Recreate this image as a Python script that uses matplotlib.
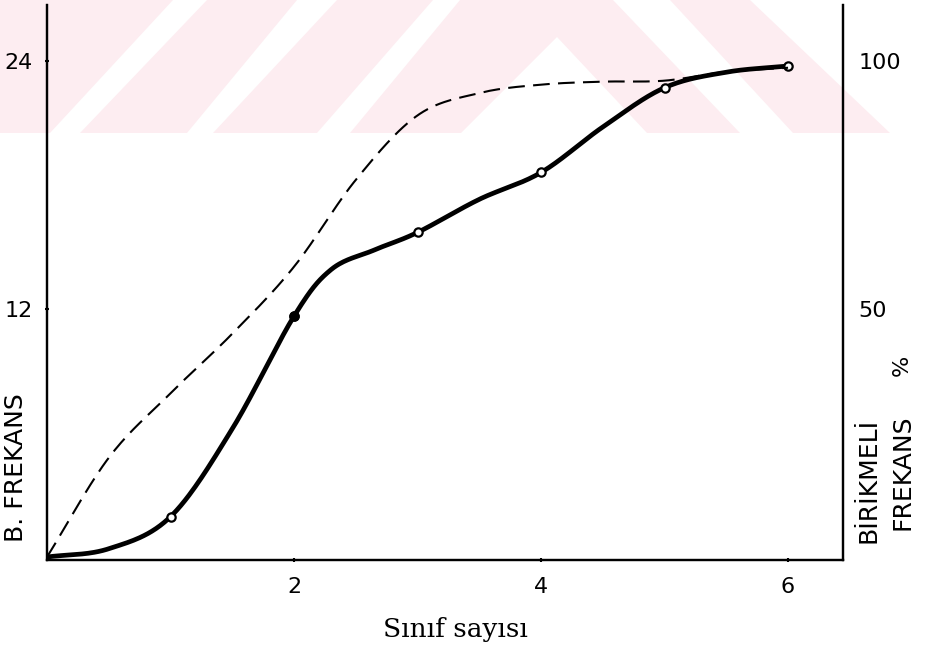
import numpy as np
import matplotlib
matplotlib.use("Agg")
import matplotlib.pyplot as plt
from matplotlib.patches import Polygon

# ---- data ----
classes = [1, 2, 3, 4, 5, 6]
freq_points = [1.95, 11.65, 15.7, 18.6, 22.7, 23.75]

# traced hand-drawn solid curve (B. FREKANS, left axis)
solid_x = [0, 0.5, 1.0, 1.5, 2.0, 2.3, 2.65, 3.0, 3.5, 4.0, 4.5, 5.0, 5.5, 6.0]
solid_y = [0, 0.4, 1.95, 6.2, 11.65, 13.9, 14.85, 15.7, 17.3, 18.6, 20.8, 22.7, 23.45, 23.75]

# traced dashed curve (BİRİKMELİ FREKANS %, right axis)
cum_x = [0, 0.5, 1.0, 1.5, 2.0, 2.5, 3.0, 3.5, 4.0, 4.5, 5.0, 5.5, 6.0]
cum_y = [0, 20.0, 33.0, 45.0, 58.5, 76.0, 89.0, 93.5, 95.2, 95.8, 96.0, 97.8, 98.6]

x_ticks = [2, 4, 6]
left_ticks = [12, 24]
right_ticks = [50, 100]


def catmull_rom(xs, ys, n=30):
    P = np.column_stack([xs, ys]).astype(float)
    P = np.vstack([2 * P[0] - P[1], P, 2 * P[-1] - P[-2]])
    out = []
    t = np.linspace(0, 1, n, endpoint=False)[:, None]
    for i in range(1, len(P) - 2):
        p0, p1, p2, p3 = P[i - 1], P[i], P[i + 1], P[i + 2]
        seg = 0.5 * ((2 * p1) + (-p0 + p2) * t + (2 * p0 - 5 * p1 + 4 * p2 - p3) * t ** 2
                     + (-p0 + 3 * p1 - 3 * p2 + p3) * t ** 3)
        out.append(seg)
    out.append(P[-2][None])
    c = np.vstack(out)
    return c[:, 0], c[:, 1]


W, H = 925, 648
fig = plt.figure(figsize=(W / 100, H / 100), dpi=100)
fig.patch.set_facecolor("white")


def fx(px):
    return px / W


def fy(py):
    return 1 - py / H


# ---- faint pink watermark band at top ----
pink = "#fdedf1"
polys = [
    [(0, 0), (173, 0), (50, 133), (0, 133)],
    [(207, 0), (297, 0), (187, 133), (80, 133)],
    [(337, 0), (433, 0), (317, 133), (213, 133)],
    [(460, 0), (613, 0), (740, 133), (647, 133), (557, 37), (461, 133), (350, 133)],
    [(670, 0), (750, 0), (890, 133), (793, 133)],
]
for poly in polys:
    fig.patches.append(Polygon([(fx(a), fy(b)) for a, b in poly], closed=True,
                               transform=fig.transFigure, facecolor=pink,
                               edgecolor="none", zorder=-5))

ax = fig.add_axes([fx(47), fy(560), fx(843) - fx(47), (560 - 5) / H])
ax.set_facecolor("none")
ax2 = ax.twinx()
ax2.set_facecolor("none")

ylo, yhi = -0.145, 26.7
ax.set_xlim(0, 6.445)
ax.set_ylim(ylo, yhi)
ax2.set_ylim(ylo * 100 / 24, yhi * 100 / 24)

for a in (ax, ax2):
    a.spines["top"].set_visible(False)
    for s in ("left", "right", "bottom"):
        a.spines[s].set_linewidth(1.6)
        a.spines[s].set_color("black")

ax.set_xticks(x_ticks)
ax.set_xticklabels([str(v) for v in x_ticks])
ax.set_yticks(left_ticks)
ax.set_yticklabels([str(v) for v in left_ticks])
ax2.set_yticks(right_ticks)
ax2.set_yticklabels([str(v) for v in right_ticks])

ax.tick_params(axis="x", length=3, width=1.5, pad=11, labelsize=16, direction="inout")
ax.tick_params(axis="y", length=3, width=1.5, pad=9, labelsize=16, direction="inout")
ax2.tick_params(axis="y", length=0, pad=11, labelsize=16)

# curves
dxs, dys = catmull_rom(cum_x, cum_y)
ax2.plot(dxs, dys, color="black", lw=1.5, dashes=(8, 4), dash_capstyle="butt", zorder=2)

sxs, sys_ = catmull_rom(solid_x, solid_y)
ax.plot(sxs, sys_, color="black", lw=3.4, solid_capstyle="round", zorder=3)
ax.plot(classes, freq_points, linestyle="none", marker="o", markersize=6,
        markerfacecolor="white", markeredgecolor="black", markeredgewidth=1.6, zorder=4)
ax.plot(classes[1:2], freq_points[1:2], linestyle="none", marker="o", markersize=6.5,
        markerfacecolor="black", markeredgecolor="black", zorder=5)

# labels
fig.text(fx(16), fy(468), "B. FREKANS", rotation=90, ha="center", va="center",
         fontsize=18, family="DejaVu Sans")
fig.text(fx(868), fy(543), "BİRİKMELİ", rotation=90, ha="center", va="bottom",
         fontsize=18, family="DejaVu Sans")
fig.text(fx(902), fy(530), "FREKANS", rotation=90, ha="center", va="bottom",
         fontsize=18, family="DejaVu Sans")
fig.text(fx(902), fy(365), "%", rotation=90, ha="center", va="center",
         fontsize=16, family="DejaVu Sans")
fig.text(fx(455), fy(637), "Sınıf sayısı", ha="center", va="baseline",
         fontsize=19, family="DejaVu Serif")

fig.savefig("out.png", dpi=100)
